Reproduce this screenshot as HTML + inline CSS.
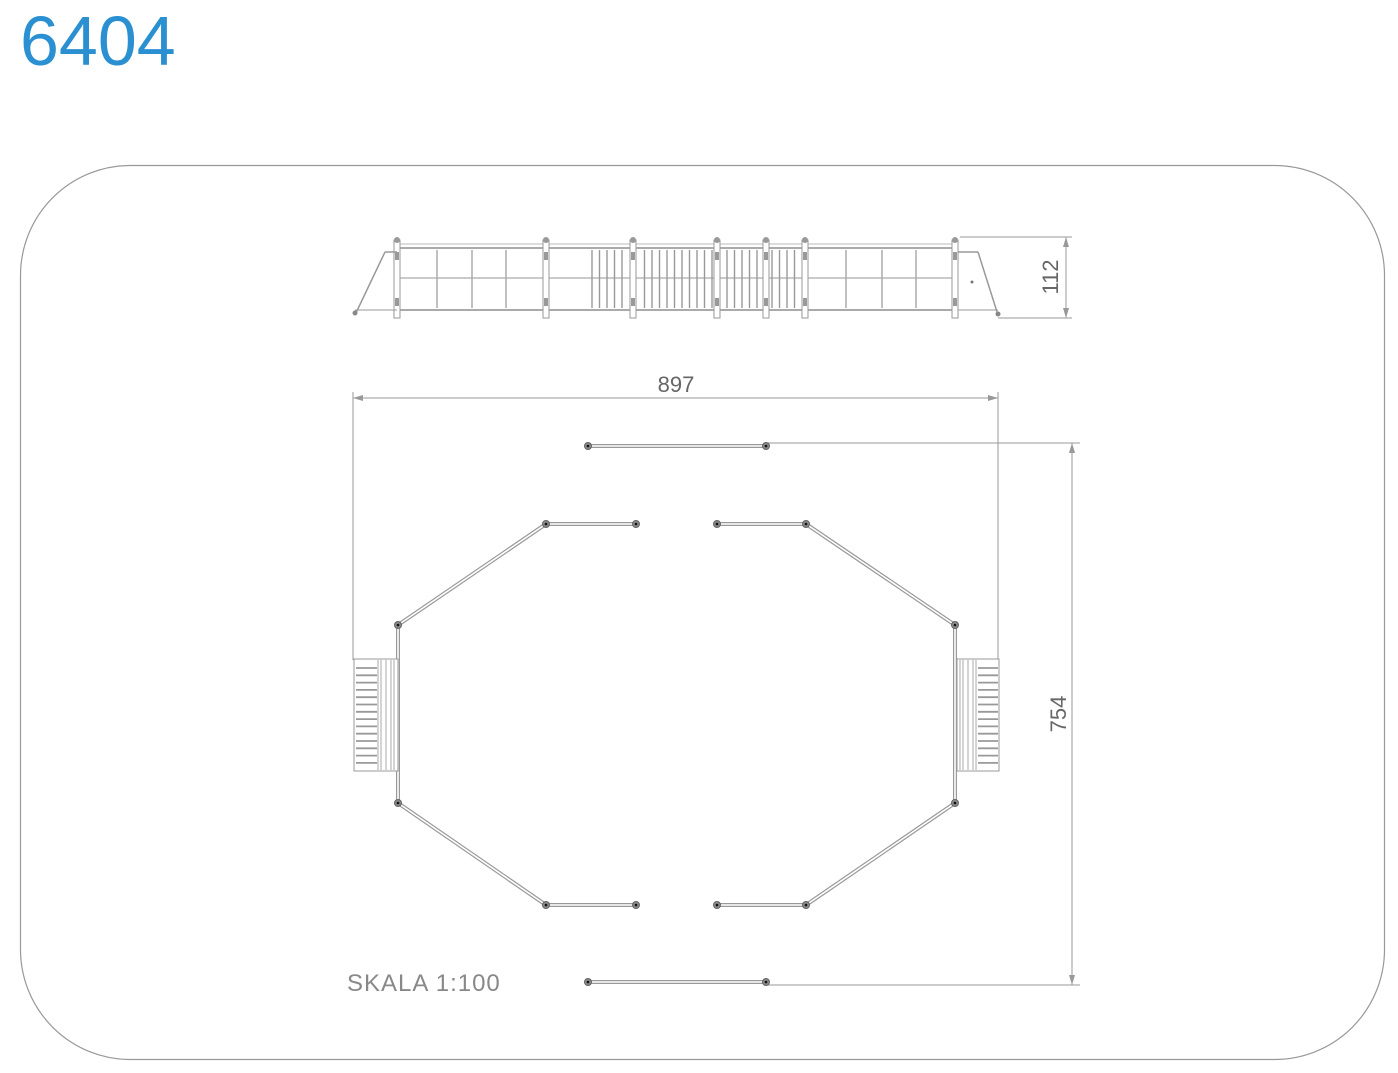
<!DOCTYPE html>
<html><head><meta charset="utf-8"><style>
html,body{margin:0;padding:0;background:#fff;width:1398px;height:1073px;overflow:hidden}
svg{display:block}
</style></head><body>
<svg id="s" width="1398" height="1073" viewBox="0 0 1398 1073" xmlns="http://www.w3.org/2000/svg" font-family="Liberation Sans, sans-serif">
<text x="20" y="65" font-size="70" fill="#2a90d2">6404</text>
<rect x="20.5" y="165.5" width="1364" height="894" rx="110" ry="110" fill="none" stroke="#999" stroke-width="1.2"/>
<g id="g" fill="none" stroke="#999" stroke-width="1"></g>
<text x="676" y="392" font-size="22" fill="#666" text-anchor="middle">897</text>
<text transform="translate(1058,277) rotate(-90)" font-size="22" fill="#666" text-anchor="middle">112</text>
<text transform="translate(1066,714) rotate(-90)" font-size="22" fill="#666" text-anchor="middle">754</text>
<text x="347" y="991" font-size="24" fill="#888" letter-spacing="1">SKALA 1:100</text>
</svg>
<script>
var g=document.getElementById('g'),NS='http://www.w3.org/2000/svg';
function el(t,a){var e=document.createElementNS(NS,t);for(var k in a)e.setAttribute(k,a[k]);g.appendChild(e);return e}
function L(x1,y1,x2,y2,c,w){el('line',{x1:x1,y1:y1,x2:x2,y2:y2,stroke:c||'#999','stroke-width':w||1})}
function rail(pts){var p=pts.map(function(a){return a.join(',')}).join(' ');
 el('polyline',{points:p,stroke:'#999','stroke-width':4});el('polyline',{points:p,stroke:'#fff','stroke-width':1.6});}
function post(x,y){el('circle',{cx:x,cy:y,r:3.5,fill:'#888',stroke:'#666'});el('circle',{cx:x,cy:y,r:1.3,fill:'#111',stroke:'none'})}
// elevation
L(397,248,955,248,'#aaa',2);L(397,310,955,310,'#aaa',2);L(397,278,955,278,'#aaa',1.2);
L(397,244,955,244,'#bbb',1);
var posts=[397,546,633,717,766,805,955];
posts.forEach(function(x){el('rect',{x:x-3,y:240,width:6,height:78,fill:'#fff',stroke:'#999'});el('circle',{cx:x,cy:240,r:3,fill:'#999',stroke:'none'});el('rect',{x:x-2,y:252,width:4,height:8,fill:'#999',stroke:'none'});el('rect',{x:x-2,y:298,width:4,height:8,fill:'#999',stroke:'none'});});
[437,472,506,846,882,916].forEach(function(x){L(x,250,x,308,'#aaa',1.5)});
for(var x=592;x<=800;x+=7.5){if(x>628&&x<638)continue;if(x>712&&x<722)continue;if(x>760&&x<772)continue;L(x,250,x,308,'#999',1.4)}
// ramps
L(385,252,397,252,'#999',1.5);L(385,252,355,315,'#999',1.5);L(355,310,397,310);el('circle',{cx:355,cy:313,r:2.5,fill:'#888',stroke:'none'});
L(958,252,978,252,'#999',1.5);L(978,252,998,315,'#999',1.5);L(958,310,998,310);el('circle',{cx:998,cy:314,r:2.5,fill:'#888',stroke:'none'});
el('circle',{cx:972,cy:282,r:1.5,fill:'#777',stroke:'none'});
// dim 112
L(960,237,1072,237);L(998,318,1072,318);L(1066,237,1066,318);
el('path',{d:'M1066,237 l-3,10 h6 z M1066,318 l-3,-10 h6 z',fill:'#999',stroke:'none'});
// dim 897
L(353,398,998,398);L(353,392,353,660);L(998,392,998,660);
el('path',{d:'M353,398 l10,-3 v6 z M998,398 l-10,-3 v6 z',fill:'#999',stroke:'none'});
// dim 754
L(766,443,1080,443);L(766,985,1080,985);L(1072,443,1072,985);
el('path',{d:'M1072,443 l-3,10 h6 z M1072,985 l-3,-10 h6 z',fill:'#999',stroke:'none'});
// plan rails
rail([[588,446],[766,446]]);rail([[588,982],[766,982]]);
rail([[636,524],[546,524],[398,625],[398,803],[546,905],[636,905]]);
rail([[717,524],[806,524],[955,625],[955,803],[806,905],[717,905]]);
[[588,446],[766,446],[588,982],[766,982],[636,524],[546,524],[398,625],[398,803],[546,905],[636,905],[717,524],[806,524],[955,625],[955,803],[806,905],[717,905]].forEach(function(p){post(p[0],p[1])});
// stairs
function stair(x0,x1,rx0,rx1,vs){el('rect',{x:x0,y:659,width:x1-x0,height:112,fill:'#fff',stroke:'#999'});
 for(var y=668;y<768;y+=7.3)L(rx0,y,rx1,y,'#999',1.8);
 vs.forEach(function(v){L(v,660,v,770,'#aaa',1)});}
stair(354,398,356,377,[378,381,386,391,394]);
stair(957,999,978,998,[960,963,968,973,976]);
</script>
</body></html>
